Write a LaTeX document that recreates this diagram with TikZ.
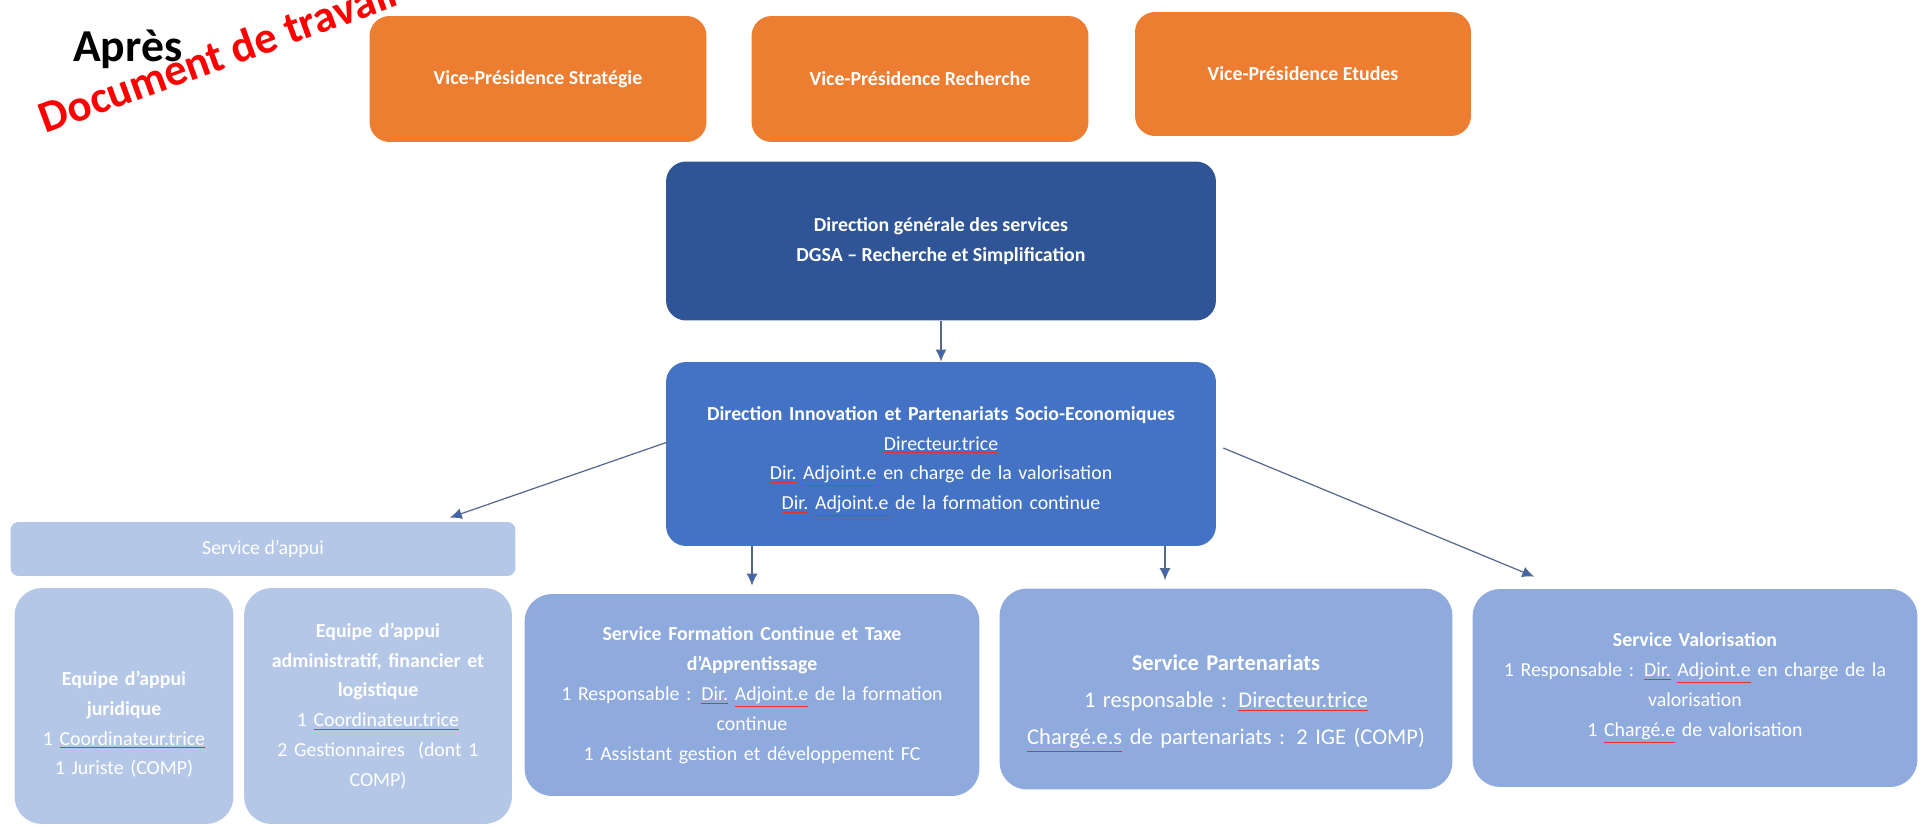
\documentclass[tikz,border=0pt]{standalone}
\usepackage{fontspec}
\setmainfont{Carlito}
\usetikzlibrary{arrows.meta}

\definecolor{vporange}{HTML}{ED7D31}
\definecolor{dgsblue}{HTML}{2F5597}
\definecolor{dirblue}{HTML}{4472C4}
\definecolor{srvblue}{HTML}{8FAADC}
\definecolor{appblue}{HTML}{B4C7E7}
\definecolor{arrline}{HTML}{55698F}
\definecolor{arrtip}{HTML}{3C64B4}
\definecolor{spellred}{HTML}{E0303A}

\newcommand{\spell}[1]{\textcolor{spellred}{\underline{\textcolor{white}{#1}}}}
\newcommand{\lift}[1]{\rule{0pt}{#1}}

\tikzset{
	box/.style = {rounded corners = 0.4cm, inner sep = 0pt, align = center, text = white,
		font = \fontsize{11.3}{17}\selectfont},
	vp/.style = {box, fill = vporange, font = \fontsize{11.3}{17}\selectfont\bfseries},
	dir/.style = {box, fill = #1},
	srv/.style = {box, fill = srvblue, rounded corners = 0.55cm},
	app/.style = {box, fill = appblue, rounded corners = 0.55cm},
	arr/.style = {draw = arrline, line width = 0.7pt, -{Latex[length = 2.4mm, width = 2.2mm, fill = arrtip]}}
}

\begin{document}
\begin{tikzpicture}[x = 0.02cm, y = -0.02cm]
	\useasboundingbox (0,0) rectangle (1920,827);
	\clip (0,0) rectangle (1920,827);

	% titre
	\node[anchor = base west, font = \fontsize{26}{30}\selectfont\bfseries] (apres) at (67,62) {Après};
	\node[anchor = base west, rotate = 20, text = red, font = \fontsize{25.5}{30}\selectfont\bfseries] (brouillon) at (40,136) {Document de travail};

	% vice-presidences
	\node[vp, minimum width = 6.74cm, minimum height = 2.52cm] (vpstrat) at (538,79) {Vice-Présidence Stratégie};
	\node[vp, minimum width = 6.74cm, minimum height = 2.52cm] (vprech) at (920,79) {Vice-Présidence Recherche};
	\node[vp, minimum width = 6.72cm, minimum height = 2.48cm] (vpetud) at (1303,74) {Vice-Présidence Etudes};

	% directions
	\node[dir = dgsblue, minimum width = 11cm, minimum height = 3.18cm, font = \fontsize{11.3}{17}\selectfont\bfseries] (dgs) at (941,241)
		{Direction générale des services\\DGSA – Recherche et Simplification};
	\node[dir = dirblue, minimum width = 11cm, minimum height = 3.68cm, text width = 10.4cm] (dipse) at (941,454)
		{\lift{0.58cm}\textbf{Direction Innovation et Partenariats Socio-Economiques}\\
		\spell{Directeur.trice}\\
		\spell{Dir.} \spell{Adjoint.e} en charge de la valorisation\\
		\spell{Dir.} \spell{Adjoint.e} de la formation continue};

	% service d'appui
	\node[app, rounded corners = 0.16cm, minimum width = 10.1cm, minimum height = 1.08cm] (appui) at (263,549) {Service d’appui};
	\node[app, minimum width = 4.38cm, minimum height = 4.72cm, text width = 4cm] (jur) at (124,706)
		{\lift{1.02cm}\textbf{Equipe d’appui}\\\textbf{juridique}\\1 \spell{Coordinateur.trice}\\1 Juriste (COMP)};
	\node[app, minimum width = 5.36cm, minimum height = 4.72cm, text width = 5cm] (adm) at (378,706)
		{\textbf{Equipe d’appui}\\\textbf{administratif, financier et}\\\textbf{logistique}\\1 \spell{Coordinateur.trice}\\2 Gestionnaires\ \ (dont 1\\COMP)};

	% services
	\node[srv, minimum width = 9.1cm, minimum height = 4.04cm, text width = 8.6cm] (fc) at (752,695)
		{\textbf{Service Formation Continue et Taxe}\\\textbf{d’Apprentissage}\\
		1 Responsable : \spell{Dir.} \spell{Adjoint.e} de la formation\\continue\\
		1 Assistant gestion et développement FC};
	\node[srv, minimum width = 9.06cm, minimum height = 4.02cm, text width = 8.6cm, font = \fontsize{12.8}{21}\selectfont] (part) at (1226,689)
		{\lift{0.9cm}\textbf{Service Partenariats}\\
		1 responsable : \spell{Directeur.trice}\\
		\spell{Chargé.e.s} de partenariats : 2 IGE (COMP)};
	\node[srv, minimum width = 8.9cm, minimum height = 3.96cm, text width = 8.5cm] (valo) at (1695,688)
		{\textbf{Service Valorisation}\\
		1 Responsable : \spell{Dir.} \spell{Adjoint.e} en charge de la\\valorisation\\
		1 \spell{Chargé.e} de valorisation};

	% liens
	\draw[arr] (dgs.south) -- (dipse.north);
	\draw[arr] ([xshift = 0.04cm, yshift = 0.24cm]dipse.west) -- ([xshift = -1.32cm, yshift = 0.08cm]appui.north east);
	\draw[arr] ([xshift = 0.14cm, yshift = 0.12cm]dipse.east) -- ([xshift = 1.24cm, yshift = 0.24cm]valo.north west);
	\draw[arr] (dipse.south -| fc.north) -- ([yshift = 0.16cm]fc.north);
	\draw[arr] ([xshift = -1.22cm]dipse.south -| part.north) -- ([xshift = -1.22cm, yshift = 0.16cm]part.north);
\end{tikzpicture}
\end{document}
